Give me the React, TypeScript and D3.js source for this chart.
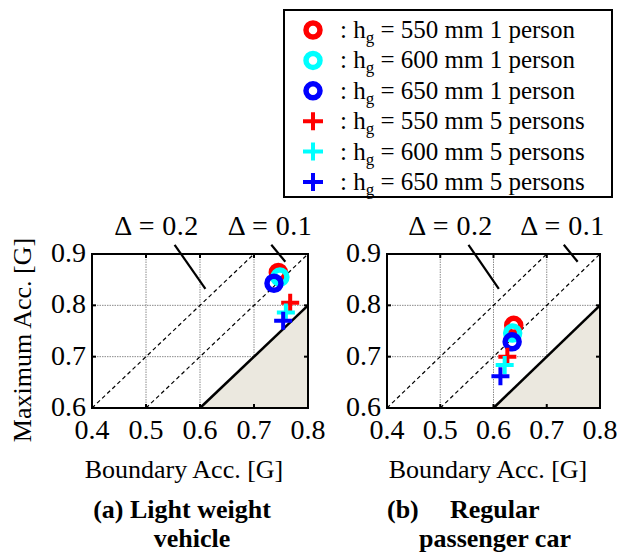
import React, { useEffect, useRef } from 'react';
import * as d3 from 'd3';

// axis ticks
const xTicks = [0.4, 0.5, 0.6, 0.7, 0.8];
const yTicks = [0.6, 0.7, 0.8, 0.9];

// legend
const heights = ['550', '600', '650'];
const seriesColors = ['#ff0000', '#00ffff', '#0000ff'];
const circleLabels = heights.map((h) => ` = ${h} mm 1 person`);
const plusLabels = heights.map((h) => ` = ${h} mm 5 persons`);

// (a) light weight vehicle : [boundary acc, maximum acc] per h_g
const lightCircleX = [0.745, 0.748, 0.737];
const lightCircleY = [0.864, 0.855, 0.843];
const lightPlusX = [0.767, 0.759, 0.754];
const lightPlusY = [0.805, 0.786, 0.77];

// (b) regular passenger car
const regularCircleX = [0.638, 0.636, 0.635];
const regularCircleY = [0.761, 0.746, 0.729];
const regularPlusX = [0.626, 0.621, 0.613];
const regularPlusY = [0.7, 0.684, 0.662];

// margin lines y = x + delta
const deltas = [0.1, 0.2];

const FONT = '"Liberation Serif", "Times New Roman", serif';

const App: React.FC = () => {
  const ref = useRef<SVGSVGElement | null>(null);

  useEffect(() => {
    if (!ref.current) return;
    const svg = d3.select(ref.current);
    svg.selectAll('*').remove();

    const panels = [
      {
        left: 92, right: 308,
        cx: lightCircleX, cy: lightCircleY, px: lightPlusX, py: lightPlusY,
        labelX: 184,
      },
      {
        left: 387, right: 600,
        cx: regularCircleX, cy: regularCircleY, px: regularPlusX, py: regularPlusY,
        labelX: 488,
      },
    ];
    const top = 254;
    const bottom = 408;

    panels.forEach((p) => {
      const x = d3.scaleLinear().domain([0.4, 0.8]).range([p.left, p.right]);
      const y = d3.scaleLinear().domain([0.6, 0.9]).range([bottom, top]);
      const g = svg.append('g');

      // grid
      g.selectAll('.gx')
        .data(xTicks.slice(1, -1))
        .enter()
        .append('line')
        .attr('x1', (d) => x(d)).attr('x2', (d) => x(d))
        .attr('y1', top).attr('y2', bottom)
        .attr('stroke', '#8a8a8a').attr('stroke-width', 1)
        .attr('stroke-dasharray', '1.5,1');
      g.selectAll('.gy')
        .data(yTicks.slice(1, -1))
        .enter()
        .append('line')
        .attr('y1', (d) => y(d)).attr('y2', (d) => y(d))
        .attr('x1', p.left).attr('x2', p.right)
        .attr('stroke', '#8a8a8a').attr('stroke-width', 1)
        .attr('stroke-dasharray', '1.5,1');

      // shaded infeasible region below y = x
      const line = d3.line<[number, number]>().x((d) => x(d[0])).y((d) => y(d[1]));
      g.append('path')
        .attr('d', line([[0.6, 0.6], [0.8, 0.8], [0.8, 0.6]]) + 'Z')
        .attr('fill', '#ebe8df');
      g.append('path')
        .attr('d', line([[0.6, 0.6], [0.8, 0.8]]))
        .attr('stroke', '#000').attr('stroke-width', 2.5).attr('fill', 'none');

      // dashed delta lines
      deltas.forEach((dl) => {
        const x0 = Math.max(0.4, 0.6 - dl);
        const x1 = Math.min(0.8, 0.9 - dl);
        g.append('path')
          .attr('d', line([[x0, x0 + dl], [x1, x1 + dl]]))
          .attr('stroke', '#000').attr('stroke-width', 1.2)
          .attr('stroke-dasharray', '4,3').attr('fill', 'none');
      });

      // frame
      g.append('rect')
        .attr('x', p.left).attr('y', top)
        .attr('width', p.right - p.left).attr('height', bottom - top)
        .attr('fill', 'none').attr('stroke', '#000').attr('stroke-width', 2);

      // inward ticks
      const tl = 4;
      xTicks.forEach((t) => {
        g.append('line').attr('x1', x(t)).attr('x2', x(t)).attr('y1', bottom).attr('y2', bottom - tl)
          .attr('stroke', '#000').attr('stroke-width', 2);
        g.append('line').attr('x1', x(t)).attr('x2', x(t)).attr('y1', top).attr('y2', top + tl)
          .attr('stroke', '#000').attr('stroke-width', 2);
      });
      yTicks.forEach((t) => {
        g.append('line').attr('y1', y(t)).attr('y2', y(t)).attr('x1', p.left).attr('x2', p.left + tl)
          .attr('stroke', '#000').attr('stroke-width', 2);
        g.append('line').attr('y1', y(t)).attr('y2', y(t)).attr('x1', p.right).attr('x2', p.right - tl)
          .attr('stroke', '#000').attr('stroke-width', 2);
      });

      // tick labels
      g.selectAll('.xl')
        .data(xTicks)
        .enter()
        .append('text')
        .attr('x', (d) => x(d)).attr('y', bottom + 31)
        .attr('text-anchor', 'middle')
        .style('font-family', FONT).style('font-size', '28px')
        .text((d) => d.toFixed(1));
      g.selectAll('.yl')
        .data(yTicks)
        .enter()
        .append('text')
        .attr('x', p.left - 6).attr('y', (d) => y(d) + 8)
        .attr('text-anchor', 'end')
        .style('font-family', FONT).style('font-size', '28px')
        .text((d) => d.toFixed(1));

      // delta annotations
      const notes = [
        { text: 'Δ = 0.2', tx: 0.519, from: [0.553, 0.918], to: [0.61, 0.832] },
        { text: 'Δ = 0.1', tx: 0.729, from: [0.732, 0.918], to: [0.758, 0.885] },
      ];
      notes.forEach((n) => {
        g.append('text')
          .attr('x', x(n.tx)).attr('y', 235)
          .attr('text-anchor', 'middle')
          .attr('textLength', 84).attr('lengthAdjust', 'spacing')
          .style('font-family', FONT).style('font-size', '28px')
          .text(n.text);
        g.append('line')
          .attr('x1', x(n.from[0])).attr('y1', y(n.from[1]))
          .attr('x2', x(n.to[0])).attr('y2', y(n.to[1]))
          .attr('stroke', '#000').attr('stroke-width', 2.2);
      });

      // markers: circles (1 person)
      p.cx.forEach((v, i) => {
        g.append('circle')
          .attr('cx', x(v)).attr('cy', y(p.cy[i])).attr('r', 7)
          .attr('fill', 'none').attr('stroke', seriesColors[i]).attr('stroke-width', 5.5);
      });
      // plus (5 persons)
      p.px.forEach((v, i) => {
        const px = x(v);
        const py = y(p.py[i]);
        g.append('path')
          .attr('d', `M${px - 9},${py}H${px + 9}M${px},${py - 9}V${py + 9}`)
          .attr('stroke', seriesColors[i]).attr('stroke-width', 4);
      });

      // x axis label
      g.append('text')
        .attr('x', p.labelX).attr('y', 478)
        .attr('text-anchor', 'middle')
        .style('font-family', FONT).style('font-size', '26px')
        .text('Boundary Acc. [G]');
    });

    // y axis label
    svg.append('text')
      .attr('transform', 'translate(31,340) rotate(-90)')
      .attr('text-anchor', 'middle')
      .style('font-family', FONT).style('font-size', '26px')
      .text('Maximum Acc. [G]');

    // captions
    const cap = (t: string, xx: number, yy: number, anchor: string) =>
      svg.append('text')
        .attr('x', xx).attr('y', yy).attr('text-anchor', anchor)
        .style('font-family', FONT).style('font-size', '26px').style('font-weight', 'bold')
        .text(t);
    cap('(a) Light weight', 182, 518, 'middle');
    cap('vehicle', 192, 547, 'middle');
    cap('(b)', 387, 518, 'start');
    cap('Regular', 450, 518, 'start');
    cap('passenger car', 495, 547, 'middle');

    // legend
    const lg = svg.append('g');
    lg.append('rect')
      .attr('x', 284).attr('y', 10).attr('width', 328).attr('height', 187)
      .attr('fill', '#fff').attr('stroke', '#000').attr('stroke-width', 2);
    const rows = [
      ...circleLabels.map((l, i) => ({ label: l, color: seriesColors[i], kind: 'circle' })),
      ...plusLabels.map((l, i) => ({ label: l, color: seriesColors[i], kind: 'plus' })),
    ];
    rows.forEach((r, i) => {
      const cy = 30 + i * 30.4;
      const mx = 313;
      if (r.kind === 'circle') {
        lg.append('circle').attr('cx', mx).attr('cy', cy).attr('r', 7)
          .attr('fill', 'none').attr('stroke', r.color).attr('stroke-width', 5.5);
      } else {
        lg.append('path')
          .attr('d', `M${mx - 10},${cy}H${mx + 10}M${mx},${cy - 9}V${cy + 9}`)
          .attr('stroke', r.color).attr('stroke-width', 4);
      }
      const t = lg.append('text')
        .attr('x', 340).attr('y', cy + 8)
        .style('font-family', FONT).style('font-size', '25px');
      t.append('tspan').text(': h');
      t.append('tspan').attr('dy', 5).style('font-size', '17px').text('g');
      t.append('tspan').attr('dy', -5).text(r.label);
    });
  }, []);

  return (
    <div style={{ position: 'absolute', left: 0, top: 0 }}>
      <svg ref={ref} width={617} height={556} style={{ display: 'block', background: '#fff' }}></svg>
    </div>
  );
};

export default App;
